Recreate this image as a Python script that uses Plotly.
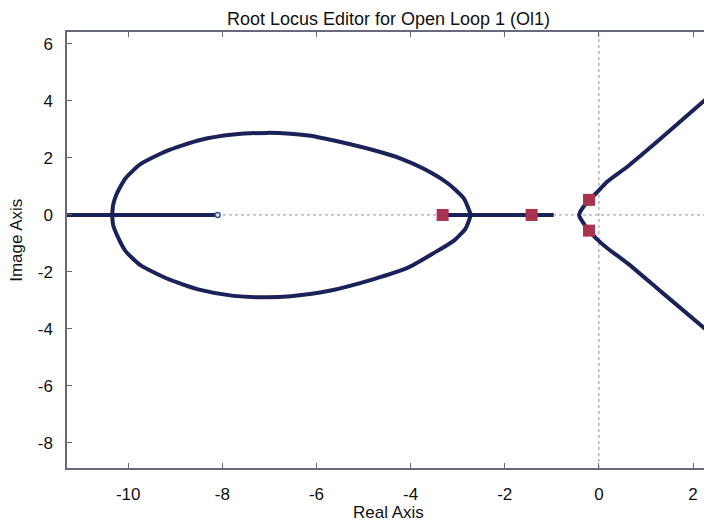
import plotly.graph_objects as go

# ---- data ----
# real-axis locus segments
real_left_x = [-11.6, -8.1]
real_left_y = [0, 0]
real_mid_x = [-3.32, -0.96]
real_mid_y = [0, 0]

# closed loop (ellipse-like) branch, upper half
ell_up_x = [-10.34, -10.32, -10.25, -10.06, -9.74, -9.18, -8.47, -7.77, -7.05, -6.55, -6.13, -5.49, -4.78, -4.21, -3.72, -3.22, -2.87, -2.72]
ell_up_y = [0.0, 0.35, 0.72, 1.28, 1.78, 2.25, 2.63, 2.82, 2.88, 2.85, 2.78, 2.56, 2.27, 1.98, 1.62, 1.12, 0.58, 0.0]
# lower half
ell_lo_x = [-10.34, -10.32, -10.24, -10.06, -9.74, -9.18, -8.47, -7.76, -7.05, -6.55, -5.70, -4.78, -4.07, -3.50, -3.08, -2.83, -2.72]
ell_lo_y = [0.0, -0.35, -0.70, -1.26, -1.76, -2.23, -2.63, -2.84, -2.89, -2.85, -2.65, -2.25, -1.86, -1.33, -0.90, -0.47, 0.0]

# branches near the origin
near_x = [-0.21, -0.30, -0.40, -0.42, -0.40, -0.35, -0.28, -0.21]
near_y = [0.53, 0.35, 0.10, 0.0, -0.10, -0.23, -0.41, -0.55]
asym_up_x = [-0.21, -0.06, 0.18, 0.61, 1.32, 2.40]
asym_up_y = [0.53, 0.76, 1.17, 1.70, 2.69, 4.24]
asym_lo_x = [-0.21, -0.06, 0.18, 0.61, 1.32, 2.40]
asym_lo_y = [-0.55, -0.82, -1.17, -1.70, -2.69, -4.20]

# poles (squares) and zero (circle)
pole_x = [-3.32, -1.43, -0.21, -0.21]
pole_y = [0, 0, 0.53, -0.55]
zero_x = [-8.1]
zero_y = [0]

x_ticks = [-10, -8, -6, -4, -2, 0, 2]
x_tick_labels = ["-10", "-8", "-6", "-4", "-2", "0", "2"]
y_ticks = [-8, -6, -4, -2, 0, 2, 4, 6]
y_tick_labels = ["-8", "-6", "-4", "-2", "0", "2", "4", "6"]
x_range = [-11.3, 2.36]
y_range = [-8.88, 6.42]

title_text = "Root Locus Editor for Open Loop 1 (Ol1)"
x_title = "Real Axis"
y_title = "Image Axis"

# ---- styles ----
LOCUS = "#1b2259"
POLE = "#a8324f"
FRAME = "#666a7a"
FONT = "Liberation Sans, Arial, sans-serif"

fig = go.Figure()
line_style = dict(color=LOCUS, width=4)
for xs, ys in [(real_left_x, real_left_y), (real_mid_x, real_mid_y),
               (ell_up_x, ell_up_y), (ell_lo_x, ell_lo_y),
               (near_x, near_y), (asym_up_x, asym_up_y), (asym_lo_x, asym_lo_y)]:
    fig.add_trace(go.Scatter(x=xs, y=ys, mode="lines",
                             line=dict(line_style, shape="spline", smoothing=0.6),
                             hoverinfo="skip", showlegend=False))

fig.add_trace(go.Scatter(x=zero_x, y=zero_y, mode="markers",
                         marker=dict(symbol="circle", size=5, color="#dfe6f5",
                                     line=dict(color="#3a5aa0", width=1.5)),
                         showlegend=False))
fig.add_trace(go.Scatter(x=pole_x, y=pole_y, mode="markers",
                         marker=dict(symbol="square", size=12, color=POLE,
                                     line=dict(width=0)),
                         showlegend=False))

# dotted reference lines at x=0 and y=0
fig.add_shape(type="line", xref="x", yref="paper", x0=0, x1=0, y0=0, y1=1,
              line=dict(color="#8d93a8", width=1, dash="dot"), layer="below")
fig.add_shape(type="line", xref="paper", yref="y", x0=0, x1=1, y0=0, y1=0,
              line=dict(color="#8d93a8", width=1, dash="dot"), layer="below")

axis_common = dict(showgrid=False, zeroline=False, showline=True, linecolor=FRAME,
                   linewidth=1.5, mirror="ticks", ticks="inside", ticklen=5,
                   tickcolor=FRAME, tickwidth=1, automargin=False,
                   tickfont=dict(family=FONT, size=17, color="#111111"))

# page body has an 8px margin: figure is sized/placed so the plot area lands
# at page x 67..710, y 32..468
fig.update_layout(
    width=704, height=519,
    margin=dict(l=59, r=2, t=24, b=59, autoexpand=False),
    paper_bgcolor="white", plot_bgcolor="white",
    xaxis=dict(axis_common, range=x_range, tickvals=x_ticks, ticktext=x_tick_labels,
               ticklabelstandoff=10),
    yaxis=dict(axis_common, range=y_range, tickvals=y_ticks, ticktext=y_tick_labels,
               ticklabelstandoff=9),
    title=dict(text=title_text, x=0.5, xref="paper", y=0.979, yref="container",
               yanchor="middle", font=dict(family=FONT, size=18, color="#111111")),
    annotations=[
        dict(text=x_title, xref="paper", yref="paper", x=0.5, y=-0.101,
             showarrow=False, yanchor="middle",
             font=dict(family=FONT, size=17, color="#111111")),
        dict(text=y_title, xref="paper", yref="paper", x=-0.078, y=0.523,
             showarrow=False, textangle=-90, xanchor="center", yanchor="middle",
             font=dict(family=FONT, size=17, color="#111111")),
    ],
)

fig.write_html("out.html")
